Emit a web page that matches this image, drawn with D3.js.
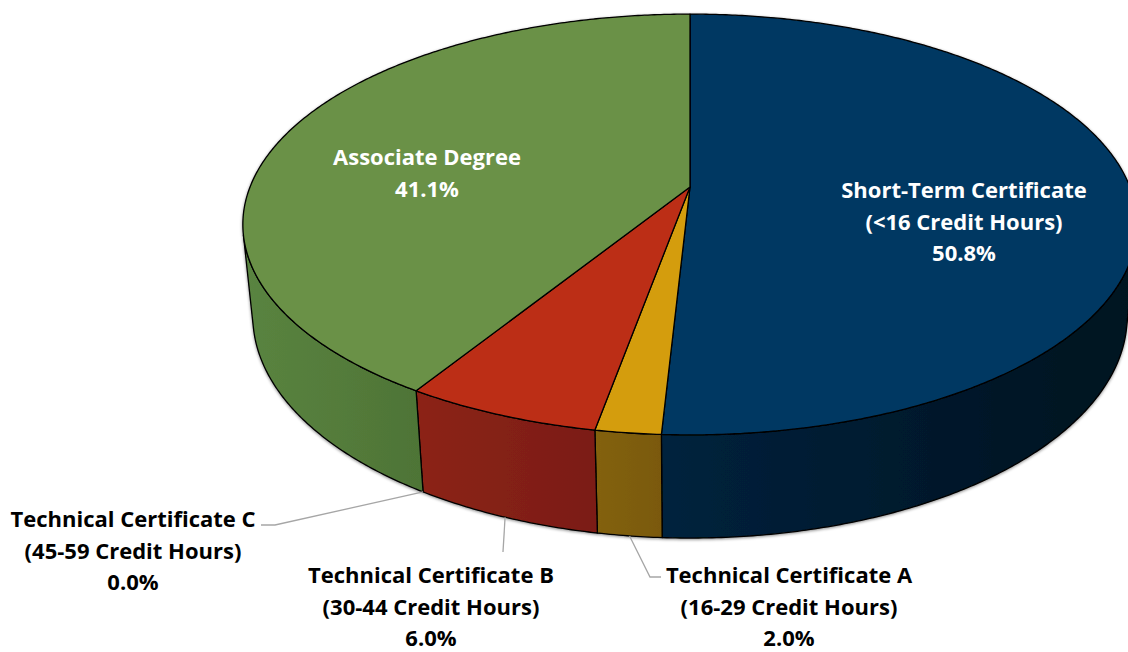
<!DOCTYPE html>
<html>
<head>
<meta charset="utf-8">
<script src="https://cdn.jsdelivr.net/npm/d3@7"></script>
<style>
  body { margin: 0; background: #fff; }
  text { font-family: "Open Sans", Lato, sans-serif; font-weight: 700; }
</style>
</head>
<body>
<svg id="chart" width="1128" height="652"></svg>
<script>
// data
const categories = ["Short-Term Certificate", "Technical Certificate A", "Technical Certificate B",
    "Technical Certificate C", "Associate Degree"];
const subLabels = ["(<16 Credit Hours)", "(16-29 Credit Hours)", "(30-44 Credit Hours)",
    "(45-59 Credit Hours)", ""];
const shares = [50.8, 2.0, 6.0, 0.0, 41.1];
const topColors = ["#003862", "#d49d0f", "#bc2f17", "#6a9146", "#6a9146"];
const sideColors = [["#00223d", "#00121f"], ["#836210", "#7a590d"], ["#8c2414", "#7b1c12"],
    ["#5a8440", "#4e7436"], ["#5a8440", "#4e7436"]];

// layout of the text blocks (centre x, first baseline y, fill)
const labelLayout = [
    { x: 964, y: 198, fill: "#fff" },
    { x: 789, y: 583, fill: "#000" },
    { x: 431, y: 583, fill: "#000" },
    { x: 133, y: 527, fill: "#000" },
    { x: 427, y: 165, fill: "#fff" }
];

const svg = d3.select("#chart");

// perspective projection of a tilted disk
const cx = 690, cy = 187;
const D = 1, R = 0.201, F = 2189, H = 0.0477;
const phi = Math.asin(0.463);
const sinP = Math.sin(phi), cosP = Math.cos(phi);

function proj(a, z, r = R) {
    const u = r * Math.sin(a), v = r * Math.cos(a);
    const up = v * sinP + z * cosP;
    const depth = D + v * cosP - z * sinP;
    return [cx + F * u / depth, cy - F * up / depth];
}

function arcPts(a0, a1, z) {
    const n = Math.max(2, Math.ceil(Math.abs(a1 - a0) / (Math.PI / 360)));
    return d3.range(n + 1).map(i => proj(a0 + (a1 - a0) * i / n, z));
}

const pie = d3.pie().sort(null).value(d => d).startAngle(0).endAngle(2 * Math.PI);
const arcs = pie(shares);

// outer wall faces the camera where cos(a) < -R/(D cosP)
const visA = Math.acos(-R / (D * cosP));
const vis0 = visA, vis1 = 2 * Math.PI - visA;

const defs = svg.append("defs");
defs.append("filter").attr("id", "shadow")
    .attr("x", "-10%").attr("y", "-10%").attr("width", "120%").attr("height", "120%")
    .append("feDropShadow")
    .attr("dx", 0).attr("dy", 1).attr("stdDeviation", 1.6)
    .attr("flood-color", "#000").attr("flood-opacity", 0.45);

arcs.forEach((d, i) => {
    const g = defs.append("linearGradient").attr("id", "side" + i)
        .attr("x1", "0%").attr("x2", "100%").attr("y1", "0%").attr("y2", "0%");
    g.append("stop").attr("offset", "0%").attr("stop-color", sideColors[i][0]);
    g.append("stop").attr("offset", "100%").attr("stop-color", sideColors[i][1]);
});

const line = d3.line();
const pieG = svg.append("g").attr("filter", "url(#shadow)");

// side walls
arcs.forEach((d, i) => {
    const s0 = Math.max(d.startAngle, vis0), s1 = Math.min(d.endAngle, vis1);
    if (s1 - s0 <= 1e-6) return;
    const pts = arcPts(s0, s1, 0).concat(arcPts(s1, s0, -H));
    pieG.append("path")
        .attr("d", line(pts) + "Z")
        .attr("fill", `url(#side${i})`)
        .attr("stroke", "#000")
        .attr("stroke-width", 1.3)
        .attr("stroke-linejoin", "round");
});

// top faces
arcs.forEach((d, i) => {
    if (d.endAngle - d.startAngle <= 1e-6) return;
    const pts = [[cx, cy]].concat(arcPts(d.startAngle, d.endAngle, 0));
    pieG.append("path")
        .attr("d", line(pts) + "Z")
        .attr("fill", topColors[i])
        .attr("stroke", "#000")
        .attr("stroke-width", 1.3)
        .attr("stroke-linejoin", "round");
});

// leader lines for the outside labels
const leaders = [
    null,
    { end: [[650, 577], [661, 577]] },
    { end: [[503, 552]] },
    { end: [[275, 525], [261, 525]] },
    null
];
arcs.forEach((d, i) => {
    if (!leaders[i]) return;
    const mid = (d.startAngle + d.endAngle) / 2;
    const start = proj(mid, -H);
    svg.append("path")
        .attr("d", line([start].concat(leaders[i].end)))
        .attr("fill", "none")
        .attr("stroke", "#a6a6a6")
        .attr("stroke-width", 1.3);
});

// labels
arcs.forEach((d, i) => {
    const L = labelLayout[i];
    const lines = [categories[i]];
    if (subLabels[i]) lines.push(subLabels[i]);
    lines.push(shares[i].toFixed(1) + "%");
    svg.append("text")
        .attr("text-anchor", "middle")
        .attr("font-size", 22)
        .attr("fill", L.fill)
        .selectAll("tspan")
        .data(lines)
        .join("tspan")
        .attr("x", L.x)
        .attr("y", (t, j) => L.y + j * 31.5)
        .text(t => t);
});
</script>
</body>
</html>
